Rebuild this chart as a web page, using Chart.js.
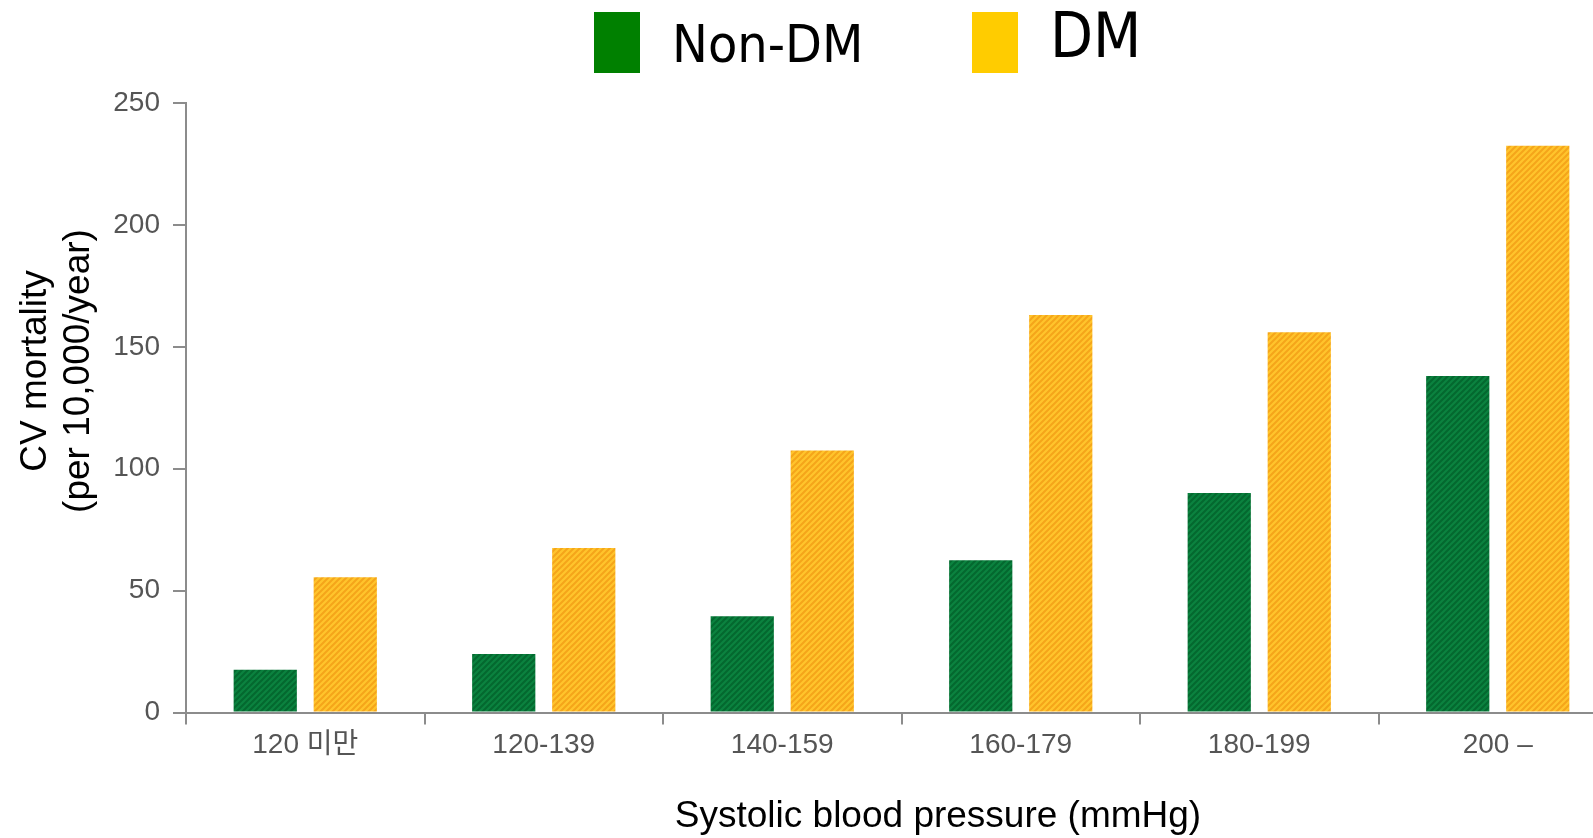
<!DOCTYPE html>
<html>
<head>
<meta charset="utf-8">
<script src="https://cdn.jsdelivr.net/npm/chart.js@4.4.1/dist/chart.umd.min.js"></script>
<style>
  html, body { margin: 0; padding: 0; background: #fff; overflow: hidden; }
  #wrap { position: absolute; left: 0; top: 0; width: 1617px; height: 838px; }
</style>
</head>
<body>
<div id="wrap"><canvas id="chart"></canvas></div>
<script>
// data
const categories = ['120 미만', '120-139', '140-159', '160-179', '180-199', '200 –'];
const nonDmValues = [17.5, 24, 39.5, 62.5, 90, 138];
const dmValues = [55.5, 67.5, 107.5, 163, 156, 232.5];
const yTicks = [0, 50, 100, 150, 200, 250];
const seriesNames = ['Non-DM', 'DM'];
const xTitle = 'Systolic blood pressure (mmHg)';
const yTitle = ['CV mortality', '(per 10,000/year)'];

const tickFont = "'Liberation Sans', 'Noto Sans CJK KR', sans-serif";
const axisGray = '#8c8c8c';

// diagonal hatch fill like the original bars
function hatch(base, stripe) {
    const c = document.createElement('canvas');
    c.width = 6; c.height = 6;
    const g = c.getContext('2d');
    g.fillStyle = base;
    g.fillRect(0, 0, 6, 6);
    g.strokeStyle = stripe;
    g.lineWidth = 2;
    g.beginPath();
    g.moveTo(-1, 7); g.lineTo(7, -1);
    g.moveTo(-1, 1); g.lineTo(1, -1);
    g.moveTo(5, 7); g.lineTo(7, 5);
    g.stroke();
    return g.createPattern(c, 'repeat');
}

// legend + axis titles drawn at fixed spots (they are not centred in the original)
const extras = {
    id: 'extras',
    afterDraw(chart) {
        const ctx = chart.ctx;
        ctx.save();
        ctx.textAlign = 'left';
        ctx.textBaseline = 'alphabetic';

        // legend
        ctx.fillStyle = '#008000';
        ctx.fillRect(594, 12, 46, 61);
        ctx.fillStyle = '#ffcc00';
        ctx.fillRect(972, 12, 46, 61);

        ctx.fillStyle = '#000';
        ctx.save();
        ctx.translate(672, 62);
        ctx.scale(1, 1.08);
        ctx.font = "48px 'DejaVu Sans'";
        ctx.fillText(seriesNames[0], 0, 0);
        ctx.restore();

        ctx.save();
        ctx.translate(1050, 57);
        ctx.scale(1, 1.1);
        ctx.font = "56px 'DejaVu Sans'";
        ctx.fillText(seriesNames[1], 0, 0);
        ctx.restore();

        // x title
        ctx.font = "37px 'Liberation Sans'";
        ctx.textAlign = 'center';
        ctx.fillText(xTitle, 938, 827);

        // y title, two rotated lines
        ctx.textBaseline = 'middle';
        const xs = [36, 79];
        yTitle.forEach((line, i) => {
            ctx.save();
            ctx.translate(xs[i], 371);
            ctx.rotate(-Math.PI / 2);
            ctx.fillText(line, 0, 0);
            ctx.restore();
        });
        ctx.restore();
    }
};

new Chart(document.getElementById('chart'), {
    type: 'bar',
    data: {
        labels: categories,
        datasets: [
            {
                label: seriesNames[0],
                data: nonDmValues,
                backgroundColor: hatch('#0b823f', '#04682f'),
                borderWidth: 0,
                categoryPercentage: 0.671,
                barPercentage: 0.79
            },
            {
                label: seriesNames[1],
                data: dmValues,
                backgroundColor: hatch('#ffc42c', '#f5a51a'),
                borderWidth: 0,
                categoryPercentage: 0.671,
                barPercentage: 0.79
            }
        ]
    },
    options: {
        responsive: true,
        maintainAspectRatio: false,
        animation: false,
        layout: { padding: { top: 103, left: 0, right: 0, bottom: 0 } },
        plugins: {
            legend: { display: false },
            tooltip: { enabled: false }
        },
        scales: {
            x: {
                grid: {
                    offset: true,
                    drawOnChartArea: false,
                    tickLength: 12,
                    tickColor: axisGray,
                    lineWidth: 2
                },
                border: { color: axisGray, width: 2 },
                ticks: {
                    color: '#555',
                    font: { family: tickFont, size: 28 },
                    padding: 4,
                    maxRotation: 0,
                    autoSkip: false
                },
                afterFit(s) { s.height = 125.5; }
            },
            y: {
                min: 0,
                max: 250,
                afterBuildTicks(s) { s.ticks = yTicks.map(v => ({ value: v })); },
                grid: {
                    drawOnChartArea: false,
                    tickLength: 13,
                    tickColor: axisGray,
                    lineWidth: 2
                },
                border: { color: axisGray, width: 2 },
                ticks: {
                    color: '#555',
                    font: { family: tickFont, size: 28 },
                    padding: 13
                },
                afterFit(s) { s.width = 186; }
            }
        }
    },
    plugins: [extras]
});
</script>
</body>
</html>
